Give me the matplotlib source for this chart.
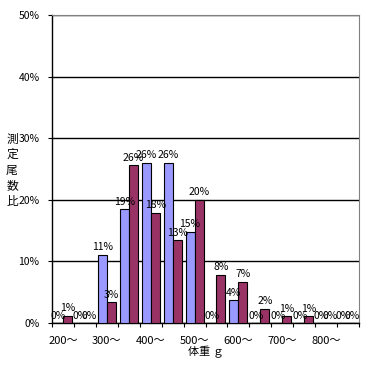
import numpy as np
import matplotlib.pyplot as plt

plt.rcParams['font.family'] = ['Noto Sans CJK JP', 'DejaVu Sans']

# 50g bins, 200g .. 850g
bins = [200, 250, 300, 350, 400, 450, 500, 550, 600, 650, 700, 750, 800, 850]
tick_labels = ['200～', '300～', '400～', '500～', '600～', '700～', '800～']
blue_vals = [0, 0, 11.1, 18.5, 26.0, 26.0, 14.8, 0, 3.7, 0, 0, 0, 0, 0]
red_vals = [1.2, 0, 3.4, 25.6, 17.9, 13.4, 20.0, 7.8, 6.7, 2.3, 1.1, 1.1, 0, 0]

fig = plt.figure(figsize=(3.67, 3.67), dpi=100)
ax = fig.add_axes([52/367, 1-323/367, 307/367, 308/367])

x = np.arange(len(bins))
w = 0.41
b1 = ax.bar(x - w/2, blue_vals, w, color='#9999FF', edgecolor='black', linewidth=0.8, zorder=3)
b2 = ax.bar(x + w/2, red_vals, w, color='#993366', edgecolor='black', linewidth=0.8, zorder=3)

for bars, vals in [(b1, blue_vals), (b2, red_vals)]:
    for r, v in zip(bars, vals):
        ax.text(r.get_x() + r.get_width()/2, v + 0.4, '%d%%' % int(v + 0.5),
                ha='center', va='bottom', fontsize=7.5, zorder=4)

ax.set_xlim(-0.5, len(bins) - 0.5)
ax.set_ylim(0, 50)
ax.set_yticks([0, 10, 20, 30, 40, 50])
ax.set_yticklabels(['0%', '10%', '20%', '30%', '40%', '50%'], fontsize=7.5)
ax.yaxis.grid(True, color='black', linewidth=1, zorder=0)
ax.set_axisbelow(True)

ax.set_xticks(x[::2])
ax.set_xticklabels(tick_labels, fontsize=8)
ax.set_xticks(np.arange(len(bins) + 1) - 0.5, minor=True)
ax.tick_params(axis='x', which='major', length=0, pad=9)
ax.tick_params(axis='x', which='minor', length=3, direction='out', width=0.8)
ax.tick_params(axis='y', length=3, width=0.8, pad=6)

for s in ['top', 'right']:
    ax.spines[s].set_color('#808080')
for s in ['left', 'bottom']:
    ax.spines[s].set_color('black')
    ax.spines[s].set_linewidth(1)

ax.set_xlabel('体重 ｇ', fontsize=8, labelpad=0)

# vertical y label, one character per line
ylab = '測定尾数比'
for i, ch in enumerate(ylab):
    fig.text(12/367, 1 - (139 + i*15.5)/367, ch, fontsize=8.5, ha='center', va='center')

fig.savefig('out.png', dpi=100)
